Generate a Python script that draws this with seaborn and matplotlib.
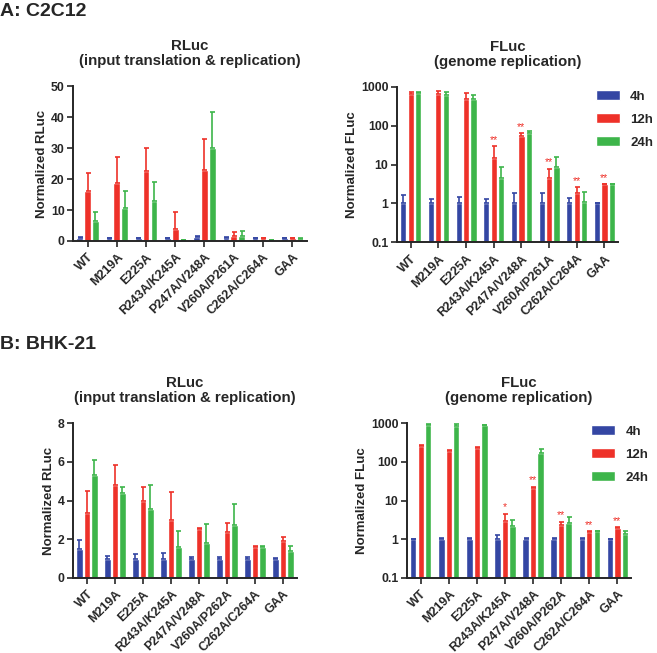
import numpy as np
import pandas as pd
import seaborn as sns
import matplotlib.pyplot as plt
from matplotlib.ticker import FixedLocator, NullLocator

sns.set_style("ticks")
plt.rcParams["font.family"] = ["Liberation Sans", "DejaVu Sans"]
plt.rcParams["font.weight"] = "bold"

times = ["4h", "12h", "24h"]
colors = ["#3446A3", "#EE3129", "#3DB54A"]

mutants_a = ["WT", "M219A", "E225A", "R243A/K245A", "P247A/V248A",
             "V260A/P261A", "C262A/C264A", "GAA"]
mutants_b = ["WT", "M219A", "E225A", "R243A/K245A", "P247A/V248A",
             "V260A/P262A", "C262A/C264A", "GAA"]

# A: C2C12, RLuc (mean, upper error)
a_rluc_4h = [1.0, 0.9, 0.9, 0.8, 1.2, 1.0, 0.8, 0.8]
a_rluc_4h_err = [0.3, 0.2, 0.2, 0.2, 0.3, 0.2, 0.1, 0.1]
a_rluc_12h = [16.2, 18.8, 22.5, 4.0, 23.0, 1.6, 0.8, 0.8]
a_rluc_12h_err = [5.8, 8.2, 7.5, 5.2, 10.0, 1.2, 0.1, 0.1]
a_rluc_24h = [6.5, 10.5, 13.0, 0.2, 30.0, 1.5, 0.2, 0.7]
a_rluc_24h_err = [3.0, 5.7, 6.0, 0.0, 11.7, 1.8, 0.0, 0.1]

# A: C2C12, FLuc
a_fluc_4h = [1.0, 1.0, 1.0, 1.0, 1.0, 1.0, 1.0, 1.0]
a_fluc_4h_err = [0.6, 0.3, 0.5, 0.3, 0.8, 0.8, 0.4, 0.0]
a_fluc_12h = [650, 650, 500, 15, 55, 4.5, 1.8, 3.1]
a_fluc_12h_err = [100, 150, 180, 15, 10, 3.3, 0.8, 0.0]
a_fluc_24h = [680, 600, 500, 4.5, 65, 8.5, 1.1, 3.2]
a_fluc_24h_err = [70, 150, 100, 4.0, 7, 7.5, 0.9, 0.0]
a_fluc_stars = ["", "", "", "**", "**", "**", "**", "**"]

# B: BHK-21, RLuc
b_rluc_4h = [1.5, 1.0, 1.0, 1.0, 1.0, 1.0, 1.0, 1.0]
b_rluc_4h_err = [0.45, 0.15, 0.25, 0.3, 0.1, 0.1, 0.1, 0.05]
b_rluc_12h = [3.35, 4.8, 4.0, 3.0, 2.55, 2.35, 1.6, 1.9]
b_rluc_12h_err = [1.15, 1.05, 0.7, 1.45, 0.05, 0.5, 0.05, 0.2]
b_rluc_24h = [5.3, 4.4, 3.55, 1.6, 1.8, 2.75, 1.6, 1.4]
b_rluc_24h_err = [0.8, 0.3, 1.25, 0.85, 1.0, 1.05, 0.05, 0.25]

# B: BHK-21, FLuc
b_fluc_4h = [1.0, 1.0, 1.0, 1.0, 1.0, 1.0, 1.0, 1.0]
b_fluc_4h_err = [0.0, 0.1, 0.1, 0.3, 0.1, 0.1, 0.1, 0.0]
b_fluc_12h = [250, 190, 230, 3.0, 21, 2.3, 1.55, 1.9]
b_fluc_12h_err = [20, 10, 10, 1.5, 2, 0.5, 0.05, 0.15]
b_fluc_24h = [900, 820, 880, 2.2, 170, 2.7, 1.6, 1.4]
b_fluc_24h_err = [50, 130, 20, 0.9, 40, 1.1, 0.0, 0.2]
b_fluc_stars = ["", "", "", "*", "**", "**", "**", "**"]


def panel(ax, mutants, vals, errs, title, ylabel, log=False, stars=None, legend=False):
    df = pd.DataFrame({
        "mutant": np.tile(mutants, 3),
        "time": np.repeat(times, len(mutants)),
        "value": np.concatenate(vals),
    })
    sns.barplot(data=df, x="mutant", y="value", hue="time", hue_order=times,
                palette=colors, errorbar=None, width=0.8, gap=0.15,
                legend=legend, ax=ax, saturation=1)
    if log:
        ax.set_yscale("log")
    for cont, v, e, c in zip(ax.containers, vals, errs, colors):
        xs = [p.get_x() + p.get_width() / 2 for p in cont.patches]
        ax.errorbar(xs, v, yerr=[np.zeros(len(e)), e], fmt="none", ecolor=c,
                    elinewidth=1.2, capsize=1.8, capthick=1.2)
    if stars is not None:
        cont = ax.containers[1]
        for p, v, e, s in zip(cont.patches, vals[1], errs[1], stars):
            if s:
                ax.annotate(s, (p.get_x() + p.get_width() / 2, v + e),
                            xytext=(0, 1), textcoords="offset points",
                            ha="center", va="bottom", color=colors[1],
                            fontsize=7.5, fontweight="normal")
    ax.set_title(title, fontsize=10.8, fontweight="bold", pad=15, linespacing=1.1)
    ax.set_xlabel("")
    ax.set_ylabel(ylabel, fontsize=9.5, fontweight="bold", labelpad=2)
    if log:
        ax.set_ylim(0.1, 1000)
        ax.yaxis.set_major_locator(FixedLocator([0.1, 1, 10, 100, 1000]))
        ax.yaxis.set_minor_locator(NullLocator())
        ax.set_yticklabels(["0.1", "1", "10", "100", "1000"])
    ax.set_xlim(-0.5, 7.5)
    ax.tick_params(axis="x", labelrotation=45, labelsize=9, length=4, width=1.2)
    ax.tick_params(axis="y", labelsize=8.8, length=4, width=1.2, pad=2)
    for lab in ax.get_xticklabels():
        lab.set_ha("right")
        lab.set_rotation_mode("anchor")
        lab.set_fontweight("bold")
    for lab in ax.get_yticklabels():
        lab.set_fontweight("bold")
    for sp in ["left", "bottom"]:
        ax.spines[sp].set_linewidth(1.4)
    sns.despine(ax=ax)


fig = plt.figure(figsize=(6.57, 6.53), dpi=100)
ax1 = fig.add_axes([0.111, 0.631, 0.356, 0.237])
ax2 = fig.add_axes([0.604, 0.629, 0.337, 0.238])
ax3 = fig.add_axes([0.111, 0.115, 0.341, 0.237])
ax4 = fig.add_axes([0.619, 0.115, 0.342, 0.237])

panel(ax1, mutants_a, [a_rluc_4h, a_rluc_12h, a_rluc_24h],
      [a_rluc_4h_err, a_rluc_12h_err, a_rluc_24h_err],
      "RLuc\n(input translation & replication)", "Normalized RLuc")
ax1.set_ylim(0, 50)
ax1.set_yticks([0, 10, 20, 30, 40, 50])

panel(ax2, mutants_a, [a_fluc_4h, a_fluc_12h, a_fluc_24h],
      [a_fluc_4h_err, a_fluc_12h_err, a_fluc_24h_err],
      "FLuc\n(genome replication)", "Normalized FLuc", log=True,
      stars=a_fluc_stars, legend=True)

panel(ax3, mutants_b, [b_rluc_4h, b_rluc_12h, b_rluc_24h],
      [b_rluc_4h_err, b_rluc_12h_err, b_rluc_24h_err],
      "RLuc\n(input translation & replication)", "Normalized RLuc")
ax3.set_ylim(0, 8)
ax3.set_yticks([0, 2, 4, 6, 8])

panel(ax4, mutants_b, [b_fluc_4h, b_fluc_12h, b_fluc_24h],
      [b_fluc_4h_err, b_fluc_12h_err, b_fluc_24h_err],
      "FLuc\n(genome replication)", "Normalized FLuc", log=True,
      stars=b_fluc_stars, legend=True)

for ax, pos in [(ax2, (0.907, 0.862)), (ax4, (0.9, 0.349))]:
    sns.move_legend(ax, "upper left", bbox_to_anchor=pos,
                    bbox_transform=fig.transFigure, frameon=False, title=None,
                    handlelength=1.8, handleheight=0.75, handletextpad=0.8,
                    labelspacing=0.8, borderpad=0, borderaxespad=0,
                    prop={"size": 9.5, "weight": "bold"})

fig.text(0.0, 0.982, "A: C2C12", fontsize=14, fontweight="bold", va="center")
fig.text(0.0, 0.472, "B: BHK-21", fontsize=14, fontweight="bold", va="center")

fig.savefig("out.png", dpi=100)
